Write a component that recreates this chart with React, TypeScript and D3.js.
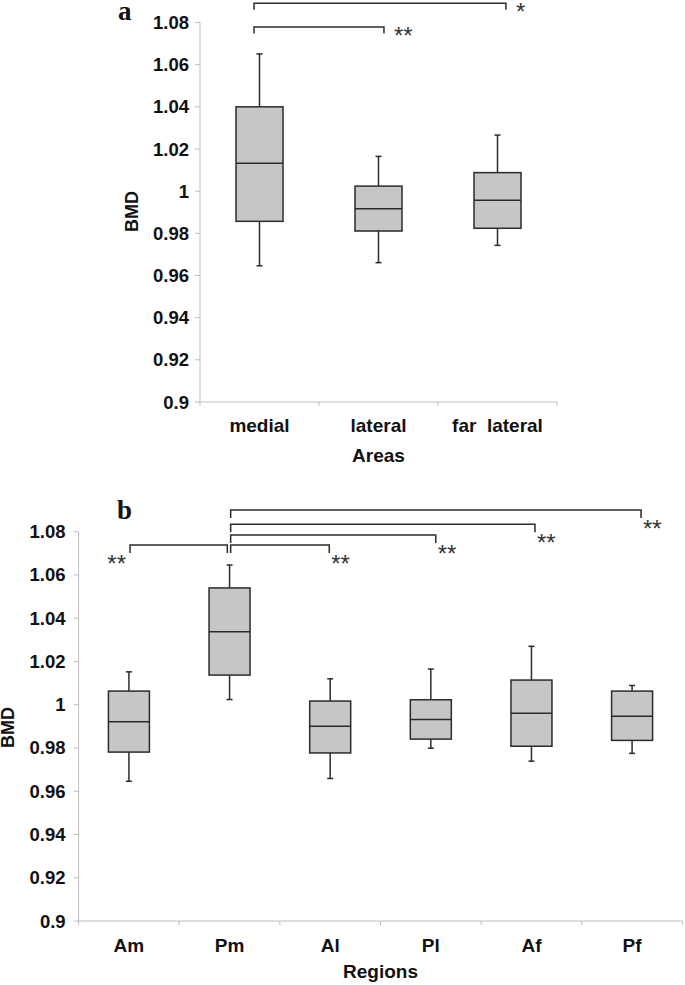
import React from "react";
import * as d3 from "d3";

// ---------- data ----------
const yTicks = [0.9, 0.92, 0.94, 0.96, 0.98, 1, 1.02, 1.04, 1.06, 1.08];

const areas = ["medial", "lateral", "far  lateral"];
const areaMin = [0.9646, 0.9661, 0.9743];
const areaQ1 = [0.9857, 0.9811, 0.9824];
const areaMed = [1.0132, 0.9917, 0.9957];
const areaQ3 = [1.04, 1.0024, 1.0088];
const areaMax = [1.0651, 1.0165, 1.0266];

const regions = ["Am", "Pm", "Al", "Pl", "Af", "Pf"];
const regMin = [0.9646, 1.0024, 0.9659, 0.9799, 0.9739, 0.9775];
const regQ1 = [0.9781, 1.0137, 0.9777, 0.9841, 0.9808, 0.9835];
const regMed = [0.9921, 1.0337, 0.99, 0.9932, 0.9961, 0.9947];
const regQ3 = [1.0063, 1.054, 1.0017, 1.0023, 1.0114, 1.0063];
const regMax = [1.0152, 1.0646, 1.012, 1.0165, 1.027, 1.0089];

// significance brackets: from/to in category-index units, level in BMD units
const areaBrFrom = [-0.046, -0.046];
const areaBrTo = [2.071, 1.046];
const areaBrLevel = [1.0891, 1.0779];
const areaBrLabel = ["*", "**"];
const areaBrSide = ["right", "right"];

const regBrFrom = [0.011, 1.011, 1.011, 1.011, 1.011];
const regBrTo = [0.978, 1.991, 3.049, 4.035, 5.089];
const regBrLevel = [1.0739, 1.0739, 1.0785, 1.0834, 1.09];
const regBrLabel = ["**", "**", "**", "**", "**"];
const regBrSide = ["left", "right", "right", "right", "right"];

// ---------- styles ----------
const AXIS = "#bdbdbd";
const INK = "#2b2b2b";
const FILL = "#c6c6c6";
const SANS = "'Liberation Sans', Arial, sans-serif";
const SERIF = "'Liberation Serif', 'Times New Roman', serif";

type PanelProps = {
  cats: string[];
  mins: number[];
  q1: number[];
  med: number[];
  q3: number[];
  maxs: number[];
  brFrom: number[];
  brTo: number[];
  brLevel: number[];
  brLabel: string[];
  brSide: string[];
  x0: number;
  x1: number;
  yTop: number;
  yBot: number;
  boxW: number;
  legDrop: number;
  starDx: number;
  starDy: number;
  tickLabelGap: number;
  catBaseline: number;
  titleBaseline: number;
  title: string;
  bmdX: number;
  bmdY: number;
  letter: string;
  letterX: number;
  letterY: number;
};

function Panel(p: PanelProps) {
  const y = d3.scaleLinear().domain([0.9, 1.08]).range([p.yBot, p.yTop]);
  const xb = d3.scaleBand<string>().domain(p.cats).range([p.x0, p.x1]).padding(0);
  const xi = d3
    .scaleLinear()
    .domain([-0.5, p.cats.length - 0.5])
    .range([p.x0, p.x1]);
  const bw = xb.bandwidth();
  const cx = (c: string) => (xb(c) as number) + bw / 2;
  const boundaries = d3.range(p.cats.length + 1).map((i) => p.x0 + i * bw);
  const capW = 6;

  return (
    <g>
      {/* panel letter */}
      <text
        x={p.letterX}
        y={p.letterY}
        fontFamily={SERIF}
        fontWeight="bold"
        fontSize={27}
        fill="#111"
      >
        {p.letter}
      </text>

      {/* y axis */}
      <line x1={p.x0} x2={p.x0} y1={y(1.08)} y2={y(0.9)} stroke={AXIS} strokeWidth={1} />
      {yTicks.map((t) => (
        <g key={t}>
          <line x1={p.x0 - 5} x2={p.x0} y1={y(t)} y2={y(t)} stroke={AXIS} strokeWidth={1} />
          <text
            x={p.x0 - p.tickLabelGap}
            y={y(t) + 6.5}
            textAnchor="end"
            fontFamily={SANS}
            fontWeight="bold"
            fontSize={18.5}
            fill="#111"
          >
            {d3.format("")(+t.toFixed(2))}
          </text>
        </g>
      ))}

      {/* x axis */}
      <line x1={p.x0} x2={p.x1} y1={y(0.9)} y2={y(0.9)} stroke={AXIS} strokeWidth={1} />
      {boundaries.map((bx, i) => (
        <line key={i} x1={bx} x2={bx} y1={y(0.9)} y2={y(0.9) + 4} stroke={AXIS} strokeWidth={1} />
      ))}
      {p.cats.map((c) => (
        <text
          key={c}
          x={cx(c)}
          y={p.catBaseline}
          textAnchor="middle"
          fontFamily={SANS}
          fontWeight="bold"
          fontSize={19}
          fill="#111"
          style={{ whiteSpace: "pre" }}
        >
          {c}
        </text>
      ))}
      <text
        x={(p.x0 + p.x1) / 2}
        y={p.titleBaseline}
        textAnchor="middle"
        fontFamily={SANS}
        fontWeight="bold"
        fontSize={19}
        fill="#111"
      >
        {p.title}
      </text>
      <text
        transform={`translate(${p.bmdX},${p.bmdY}) rotate(-90)`}
        textAnchor="middle"
        fontFamily={SANS}
        fontWeight="bold"
        fontSize={18}
        fill="#111"
        dy={6.5}
      >
        BMD
      </text>

      {/* boxes */}
      {p.cats.map((c, i) => {
        const x = cx(c);
        return (
          <g key={c} stroke={INK} strokeWidth={1.5}>
            <line x1={x} x2={x} y1={y(p.maxs[i])} y2={y(p.q3[i])} />
            <line x1={x - capW / 2} x2={x + capW / 2} y1={y(p.maxs[i])} y2={y(p.maxs[i])} />
            <line x1={x} x2={x} y1={y(p.q1[i])} y2={y(p.mins[i])} />
            <line x1={x - capW / 2} x2={x + capW / 2} y1={y(p.mins[i])} y2={y(p.mins[i])} />
            <rect
              x={x - p.boxW / 2}
              y={y(p.q3[i])}
              width={p.boxW}
              height={y(p.q1[i]) - y(p.q3[i])}
              fill={FILL}
            />
            <line x1={x - p.boxW / 2} x2={x + p.boxW / 2} y1={y(p.med[i])} y2={y(p.med[i])} />
          </g>
        );
      })}

      {/* brackets */}
      {p.brFrom.map((f, i) => {
        const xa = xi(f);
        const xz = xi(p.brTo[i]);
        const ly = y(p.brLevel[i]);
        const bottom = ly + p.legDrop;
        const right = p.brSide[i] === "right";
        const sx = right ? xz + p.starDx : xa - 4;
        const sy = bottom + p.starDy + 13.8;
        return (
          <g key={i}>
            <path
              d={`M${xa},${bottom}V${ly}H${xz}V${bottom}`}
              fill="none"
              stroke={INK}
              strokeWidth={1.5}
            />
            <text
              x={sx}
              y={sy}
              textAnchor={right ? "start" : "end"}
              fontFamily={SANS}
              fontSize={24}
              fill="#333"
            >
              {p.brLabel[i]}
            </text>
          </g>
        );
      })}
    </g>
  );
}

export default function App() {
  return (
    <svg
      width={685}
      height={985}
      style={{ position: "absolute", left: 0, top: 0, background: "#fff" }}
    >
      <rect width={685} height={985} fill="#fff" />
      <Panel
        cats={areas}
        mins={areaMin}
        q1={areaQ1}
        med={areaMed}
        q3={areaQ3}
        maxs={areaMax}
        brFrom={areaBrFrom}
        brTo={areaBrTo}
        brLevel={areaBrLevel}
        brLabel={areaBrLabel}
        brSide={areaBrSide}
        x0={200}
        x1={557}
        yTop={22.5}
        yBot={402}
        boxW={47}
        legDrop={6.5}
        starDx={10}
        starDy={-3.5}
        tickLabelGap={11}
        catBaseline={432}
        titleBaseline={462}
        title="Areas"
        bmdX={131.5}
        bmdY={211.5}
        letter="a"
        letterX={118}
        letterY={20}
      />
      <Panel
        cats={regions}
        mins={regMin}
        q1={regQ1}
        med={regMed}
        q3={regQ3}
        maxs={regMax}
        brFrom={regBrFrom}
        brTo={regBrTo}
        brLevel={regBrLevel}
        brLabel={regBrLabel}
        brSide={regBrSide}
        x0={78.6}
        x1={682.4}
        yTop={531.7}
        yBot={921}
        boxW={41}
        legDrop={8}
        starDx={2}
        starDy={5}
        tickLabelGap={13}
        catBaseline={952}
        titleBaseline={978}
        title="Regions"
        bmdX={7}
        bmdY={727.5}
        letter="b"
        letterX={117}
        letterY={519}
      />
    </svg>
  );
}
